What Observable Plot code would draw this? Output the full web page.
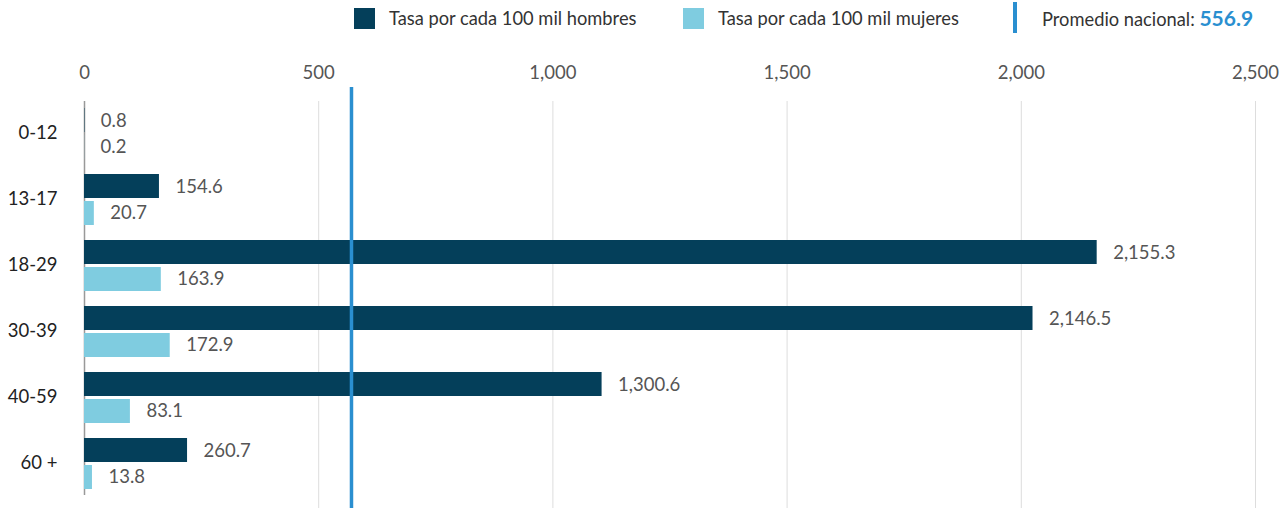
<!DOCTYPE html>
<html><head><meta charset="utf-8">
<script src="https://cdn.jsdelivr.net/npm/d3@7"></script>
<script src="https://cdn.jsdelivr.net/npm/@observablehq/plot@0.6"></script>
<style>
body{margin:0;background:#fff;font-family:Lato,sans-serif;}
#legend{position:relative;height:45px;width:1286px;}
#legend .sw{position:absolute;top:8px;width:21px;height:21px;}
#legend .tx{position:absolute;top:5px;font-size:18.3px;color:#333;line-height:26px;white-space:nowrap;}
#legend .tx.pm{font-size:18.3px;top:5px;}
#legend .bar{position:absolute;left:1013px;top:2px;width:4px;height:31px;background:#2a8fd0;}
#legend b{color:#2a8fd0;font-size:21px;}
</style></head><body>
<div id="legend"></div><div id="chart"></div>
<script>
const ages = ["0-12","13-17","18-29","30-39","40-59","60 +"];
const hombresLabel = [0.8,154.6,2155.3,2146.5,1300.6,260.7];
const mujeresLabel = [0.2,20.7,163.9,172.9,83.1,13.8];
const hombresBar = [0.8,160,2162,2025,1105,220];
const mujeresBar = [0.2,21,164,183,98,17];
const promedio = 556.9;
const promedioLine = 570;
const xTicks = [0,500,1000,1500,2000,2500];
const serieNames = ["Tasa por cada 100 mil hombres","Tasa por cada 100 mil mujeres"];
const colors = ["#043f5a","#7fcce0"];

const data = ages.map((a,i)=>({age:a, hb:hombresBar[i], mb:mujeresBar[i], hl:hombresLabel[i], ml:mujeresLabel[i]}));
const fmt = d3.format(",.1f");

const legend = document.getElementById("legend");
legend.innerHTML =
  `<div class="sw" style="left:354px;background:${colors[0]}"></div>`+
  `<div class="tx" style="left:389px">${serieNames[0]}</div>`+
  `<div class="sw" style="left:683px;background:${colors[1]}"></div>`+
  `<div class="tx" style="left:718px">${serieNames[1]}</div>`+
  `<div class="bar"></div>`+
  `<div class="tx pm" style="left:1042px">Promedio nacional: <b>${promedio}</b></div>`;

const chart = Plot.plot({
  width:1286, height:463,
  marginLeft:84, marginRight:31, marginTop:56, marginBottom:0,
  style:{fontFamily:"Lato, sans-serif", fontSize:"18.5px", background:"#fff"},
  x:{domain:[0,2500]},
  y:{domain:ages, range:[55,451], padding:0},
  marks:[
    Plot.ruleX(xTicks.slice(1), {stroke:"#ddd", strokeWidth:1}),
    Plot.ruleX([0], {stroke:"#999", strokeWidth:1.5, insetBottom:13}),
    Plot.barX(data, {x:"hb", y:"age", fill:colors[0], insetTop:8, insetBottom:34}),
    Plot.barX(data, {x:"mb", y:"age", fill:colors[1], insetTop:35, insetBottom:7}),
    Plot.text(data, {x:"hb", y:"age", text:d=>fmt(d.hl), dx:16, dy:-12, textAnchor:"start", fill:"#555", fontSize:18.5}),
    Plot.text(data, {x:"mb", y:"age", text:d=>fmt(d.ml), dx:16, dy:14, textAnchor:"start", fill:"#555", fontSize:18.5}),
    Plot.ruleX([promedioLine], {stroke:"#2a8fd0", strokeWidth:3.5, insetTop:-14}),
    Plot.axisX({anchor:"top", ticks:xTicks, tickFormat:d3.format(","), tickSize:0, tickPadding:23, label:null, fill:"#555", fontSize:18.5}),
    Plot.axisY({tickSize:0, tickPadding:27, label:null, fill:"#222", fontSize:18.5})
  ]
});
document.getElementById("chart").appendChild(chart);
</script>
</body></html>
